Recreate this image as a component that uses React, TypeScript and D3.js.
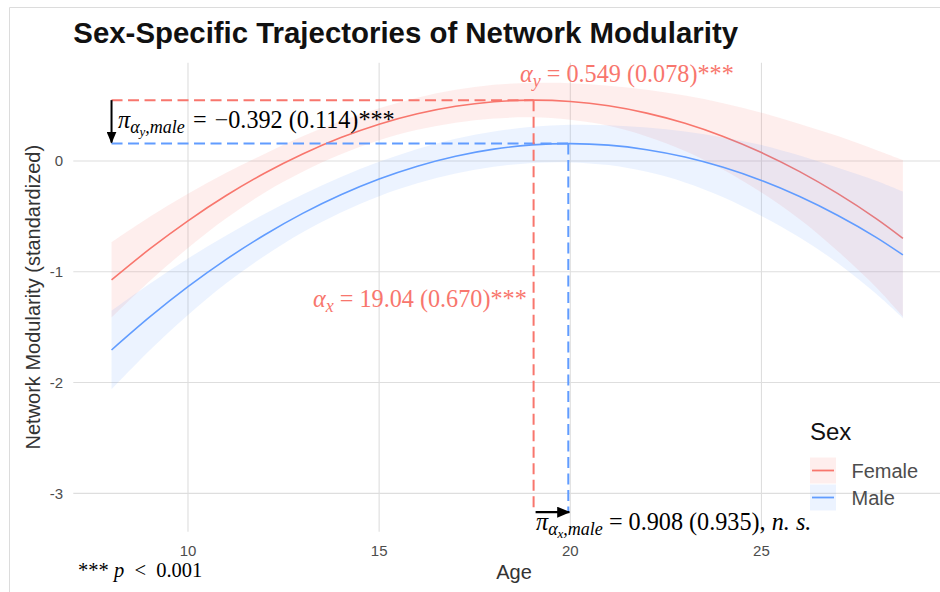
import React from 'react';
import * as d3 from 'd3';

// ---- data ----
const ages = [8, 9, 10, 11, 12, 13, 14, 15, 16, 17, 18, 19, 20, 21, 22, 23, 24, 25, 26, 27, 28, 28.7];
const femaleFit = [-1.074, -0.794, -0.54, -0.312, -0.111, 0.063, 0.211, 0.332, 0.426, 0.494, 0.535, 0.549, 0.537, 0.498, 0.432, 0.34, 0.221, 0.076, -0.096, -0.295, -0.52, -0.698];
const femaleLower = [-1.414, -1.084, -0.785, -0.517, -0.286, -0.097, 0.061, 0.187, 0.281, 0.346, 0.383, 0.394, 0.372, 0.318, 0.222, 0.09, -0.079, -0.284, -0.526, -0.815, -1.14, -1.405];
const femaleUpper = [-0.734, -0.504, -0.295, -0.107, 0.064, 0.223, 0.361, 0.477, 0.571, 0.642, 0.687, 0.704, 0.702, 0.678, 0.642, 0.59, 0.521, 0.436, 0.334, 0.225, 0.1, 0.009];
const maleFit = [-1.706, -1.408, -1.135, -0.888, -0.668, -0.473, -0.305, -0.163, -0.047, 0.043, 0.107, 0.145, 0.157, 0.143, 0.102, 0.036, -0.057, -0.176, -0.321, -0.492, -0.689, -0.848];
const maleLower = [-2.061, -1.708, -1.39, -1.103, -0.858, -0.643, -0.465, -0.318, -0.202, -0.114, -0.053, -0.018, -0.013, -0.037, -0.098, -0.194, -0.327, -0.496, -0.691, -0.922, -1.199, -1.419];
const maleUpper = [-1.351, -1.108, -0.88, -0.673, -0.478, -0.303, -0.145, -0.008, 0.108, 0.2, 0.267, 0.308, 0.327, 0.323, 0.302, 0.266, 0.213, 0.144, 0.049, -0.062, -0.179, -0.277];

const xTicks = [10, 15, 20, 25];
const yTicks = [0, -1, -2, -3];
const sexes = ['Female', 'Male'];
const sexColors = ['#F8766D', '#619CFF'];

// annotation values
const peakAgeFemale = 19.04;
const peakAgeMale = 19.948;
const peakValFemale = 0.549;
const peakValMale = 0.157;
const refAgeStart = 8;
const arrowBaseY = -3.17;

const W = 940;
const H = 592;

export default function App() {
  const x = d3.scaleLinear().domain([7, 30]).range([73.3, 952.6]);
  const y = d3.scaleLinear().domain([-3.346, 0.887]).range([531.7, 62.7]);

  const series = [
    { fit: femaleFit, lo: femaleLower, hi: femaleUpper, color: sexColors[0] },
    { fit: maleFit, lo: maleLower, hi: maleUpper, color: sexColors[1] },
  ];

  const area = (lo: number[], hi: number[]) =>
    d3
      .area<number>()
      .x((d, i) => x(ages[i]))
      .y0((d, i) => y(lo[i]))
      .y1((d, i) => y(hi[i]))
      .curve(d3.curveCatmullRom.alpha(0.5))(ages) || '';
  const line = (v: number[]) =>
    d3
      .line<number>()
      .x((d, i) => x(ages[i]))
      .y((d, i) => y(v[i]))
      .curve(d3.curveCatmullRom.alpha(0.5))(ages) || '';

  const sans = "'Liberation Sans', Arial, Helvetica, sans-serif";
  const serif = "'Liberation Serif', 'Times New Roman', serif";
  const mathSize = 24.2;
  const subSize = 18;
  const subsubSize = 13;
  const dash = '11 5.5';

  return (
    <svg width={W} height={H} style={{ position: 'absolute', left: 0, top: 0, background: '#fff' }}>
      <defs>
        <marker id="ah" viewBox="0 0 12 10" refX="11" refY="5" markerWidth="6" markerHeight="5" orient="auto-start-reverse" markerUnits="strokeWidth">
          <path d="M0,0 L12,5 L0,10 z" fill="#000" />
        </marker>
      </defs>
      <rect x={0} y={0} width={W} height={H} fill="#fff" />
      {/* outer frame */}
      <path d={`M9.5,${H} L9.5,7.5 L${W},7.5`} fill="none" stroke="#dcdcdc" strokeWidth={1} />

      {/* title */}
      <text x={73.3} y={43} fontFamily={sans} fontWeight="bold" fontSize={29.4} fill="#111">
        Sex-Specific Trajectories of Network Modularity
      </text>

      {/* grid */}
      {yTicks.map((t) => (
        <line key={'gy' + t} x1={73.3} x2={W} y1={y(t)} y2={y(t)} stroke="#dedede" strokeWidth={1.1} />
      ))}
      {xTicks.map((t) => (
        <line key={'gx' + t} x1={x(t)} x2={x(t)} y1={62.7} y2={531.7} stroke="#dedede" strokeWidth={1.1} />
      ))}

      {/* ribbons and lines */}
      {series.map((s, i) => (
        <g key={'s' + i}>
          <path d={area(s.lo, s.hi)} fill={s.color} fillOpacity={0.12} stroke="none" />
          <path d={line(s.fit)} fill="none" stroke={s.color} strokeWidth={1.6} />
        </g>
      ))}

      {/* dashed reference lines */}
      <line x1={x(refAgeStart)} x2={x(peakAgeFemale)} y1={y(peakValFemale)} y2={y(peakValFemale)} stroke={sexColors[0]} strokeWidth={2} strokeDasharray={dash} />
      <line x1={x(refAgeStart)} x2={x(peakAgeMale)} y1={y(peakValMale)} y2={y(peakValMale)} stroke={sexColors[1]} strokeWidth={2} strokeDasharray={dash} />
      <line x1={x(peakAgeFemale)} x2={x(peakAgeFemale)} y1={y(peakValFemale)} y2={y(arrowBaseY)} stroke={sexColors[0]} strokeWidth={2} strokeDasharray={dash} />
      <line x1={x(peakAgeMale)} x2={x(peakAgeMale)} y1={y(peakValMale)} y2={y(arrowBaseY)} stroke={sexColors[1]} strokeWidth={2} strokeDasharray={dash} />

      {/* arrows */}
      <line x1={x(refAgeStart)} x2={x(refAgeStart)} y1={y(peakValFemale)} y2={y(peakValMale) - 1} stroke="#000" strokeWidth={2} markerEnd="url(#ah)" />
      <line x1={x(peakAgeFemale) + 2} x2={x(peakAgeMale) + 1} y1={y(arrowBaseY)} y2={y(arrowBaseY)} stroke="#000" strokeWidth={2.2} markerEnd="url(#ah)" />

      {/* annotations */}
      <text x={520} y={82} fontFamily={serif} fontSize={mathSize} fill={sexColors[0]} style={{ whiteSpace: 'pre' }}>
        <tspan fontStyle="italic">α</tspan>
        <tspan fontStyle="italic" fontSize={subSize} dy={5}>y</tspan>
        <tspan dy={-5}>{' = 0.549 (0.078)***'}</tspan>
      </text>
      <text x={118} y={128} fontFamily={serif} fontSize={mathSize} fill="#000" style={{ whiteSpace: 'pre' }}>
        <tspan fontStyle="italic">π</tspan>
        <tspan fontStyle="italic" fontSize={subSize} dy={5}>α</tspan>
        <tspan fontStyle="italic" fontSize={subsubSize} dy={3}>y</tspan>
        <tspan fontStyle="italic" fontSize={subSize} dy={-3}>,male</tspan>
        <tspan dy={-5}>{'\u2004=\u2004−0.392 (0.114)***'}</tspan>
      </text>
      <text x={313} y={307} fontFamily={serif} fontSize={mathSize} fill={sexColors[0]} style={{ whiteSpace: 'pre' }}>
        <tspan fontStyle="italic">α</tspan>
        <tspan fontStyle="italic" fontSize={subSize} dy={5}>x</tspan>
        <tspan dy={-5}>{' = 19.04 (0.670)***'}</tspan>
      </text>
      <text x={536} y={530} fontFamily={serif} fontSize={mathSize} fill="#000" style={{ whiteSpace: 'pre' }}>
        <tspan fontStyle="italic">π</tspan>
        <tspan fontStyle="italic" fontSize={subSize} dy={5}>α</tspan>
        <tspan fontStyle="italic" fontSize={subsubSize} dy={3}>x</tspan>
        <tspan fontStyle="italic" fontSize={subSize} dy={-3}>,male</tspan>
        <tspan dy={-5}>{' = 0.908 (0.935), '}</tspan>
        <tspan fontStyle="italic">{'n. s.'}</tspan>
      </text>
      <text x={78} y={577} fontFamily={serif} fontSize={20.5} fill="#000" style={{ whiteSpace: 'pre' }}>
        <tspan>***</tspan>
        <tspan fontStyle="italic">{' p'}</tspan>
        <tspan>{'  <  0.001'}</tspan>
      </text>

      {/* axes labels */}
      {yTicks.map((t) => (
        <text key={'ty' + t} x={63} y={y(t)} dy="0.35em" textAnchor="end" fontFamily={sans} fontSize={15} fill="#4d4d4d">
          {t}
        </text>
      ))}
      {xTicks.map((t) => (
        <text key={'tx' + t} x={x(t)} y={556} textAnchor="middle" fontFamily={sans} fontSize={15} fill="#4d4d4d">
          {t}
        </text>
      ))}
      <text x={514} y={579} textAnchor="middle" fontFamily={sans} fontSize={20} fill="#333">
        Age
      </text>
      <text transform={`translate(40,${(62.7 + 531.7) / 2}) rotate(-90)`} textAnchor="middle" fontFamily={sans} fontSize={20} fill="#333">
        Network Modularity (standardized)
      </text>

      {/* legend */}
      <text x={810} y={440} fontFamily={sans} fontSize={24} fill="#111">
        Sex
      </text>
      {sexes.map((s, i) => {
        const top = 457.5 + i * 27;
        return (
          <g key={'lg' + s}>
            <rect x={810} y={top} width={26} height={26} fill={sexColors[i]} fillOpacity={0.12} />
            <line x1={812} x2={834} y1={top + 13} y2={top + 13} stroke={sexColors[i]} strokeWidth={1.8} />
            <text x={851.5} y={top + 20.5} fontFamily={sans} fontSize={20} fill="#4d4d4d">
              {s}
            </text>
          </g>
        );
      })}
    </svg>
  );
}
